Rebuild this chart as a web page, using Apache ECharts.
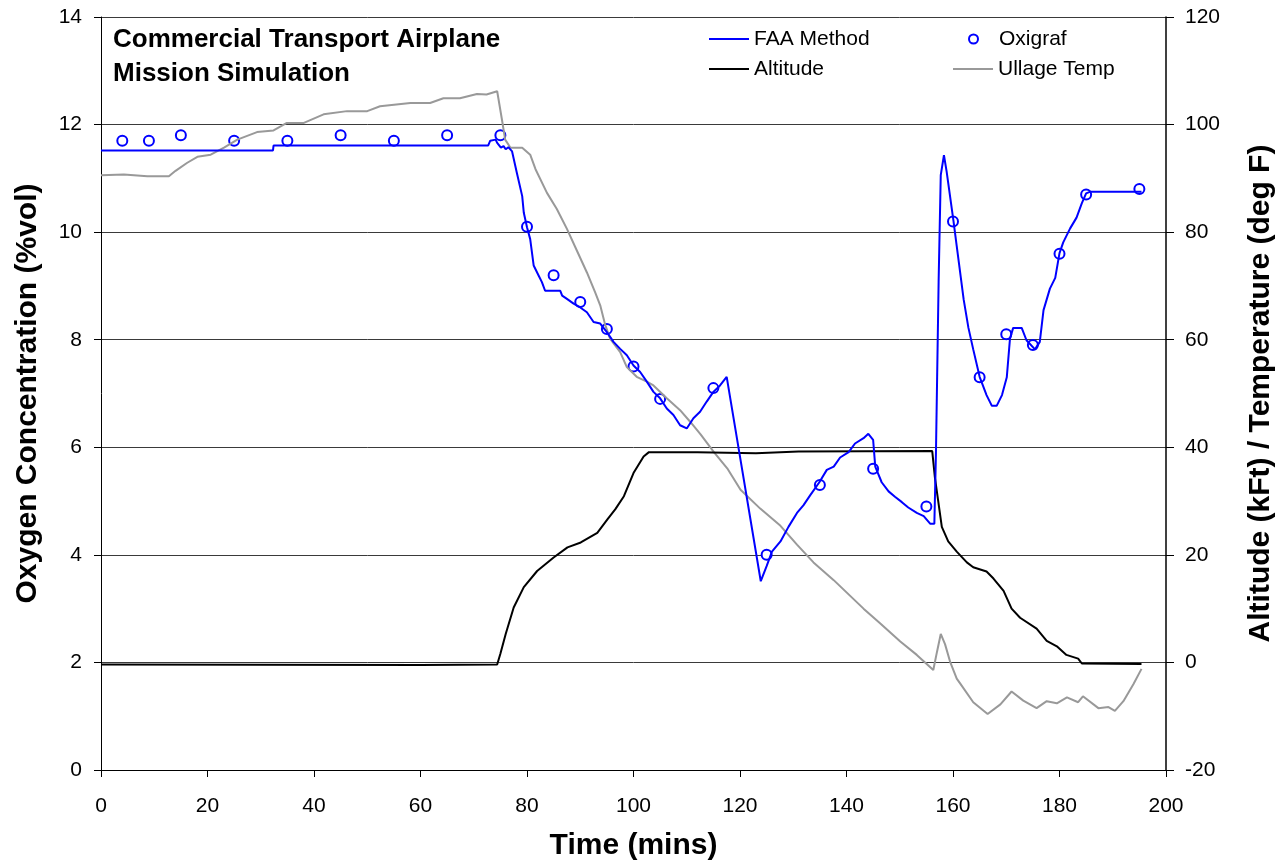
<!DOCTYPE html>
<html>
<head>
<meta charset="utf-8">
<title>Commercial Transport Airplane Mission Simulation</title>
<script src="https://cdn.jsdelivr.net/npm/echarts@6/dist/echarts.min.js"></script>
<style>
  html, body { margin: 0; padding: 0; background: #fff; }
  #chart { width: 1285px; height: 866px; }
</style>
</head>
<body>
<div id="chart"></div>
<script>
// FAA method (oxygen %vol)
const faaTime = [0, 32.3, 32.4, 72.7, 73.1, 74.1, 74.4, 75.1, 75.6, 76.0, 76.5, 77.2, 78.1, 79.1, 79.4, 80.0, 80.6, 81.25, 82.2, 82.8, 83.4, 86.25, 86.6, 87.5, 88.75, 90.0, 91.25, 92.5, 93.75, 95.0, 96.25, 97.5, 98.75, 100.0, 101.25, 102.5, 103.75, 105.0, 106.25, 107.5, 108.75, 110.0, 111.25, 112.5, 113.75, 115.0, 116.25, 117.5, 117.8, 123.9, 125.0, 126.0, 127.6, 129.1, 130.7, 131.9, 133.2, 134.9, 136.3, 137.6, 138.8, 140.4, 141.6, 143.2, 144.1, 145.0, 145.4, 146.6, 147.9, 149.1, 150.4, 151.6, 153.2, 154.5, 155.7, 156.5, 156.8, 157.3, 157.7, 158.3, 158.8, 160.1, 160.7, 162.0, 162.9, 163.8, 165.0, 166.3, 167.3, 168.2, 169.2, 170.1, 170.7, 171.3, 172.9, 173.8, 175.4, 176.3, 177.0, 178.2, 179.2, 180.0, 180.7, 182.0, 183.2, 184.2, 185.0, 185.7, 195.4]
const faaO2 = [11.52, 11.52, 11.61, 11.61, 11.70, 11.72, 11.66, 11.57, 11.60, 11.54, 11.58, 11.50, 11.10, 10.67, 10.36, 10.09, 9.87, 9.38, 9.19, 9.07, 8.91, 8.91, 8.82, 8.76, 8.67, 8.60, 8.51, 8.33, 8.30, 8.14, 7.96, 7.83, 7.71, 7.52, 7.40, 7.22, 7.03, 6.91, 6.72, 6.60, 6.41, 6.35, 6.54, 6.66, 6.85, 7.03, 7.15, 7.31, 7.34, 3.51, 3.79, 4.06, 4.25, 4.52, 4.78, 4.92, 5.11, 5.35, 5.58, 5.64, 5.81, 5.91, 6.07, 6.17, 6.25, 6.14, 5.64, 5.35, 5.18, 5.08, 4.98, 4.88, 4.78, 4.72, 4.58, 4.58, 5.90, 9.08, 11.06, 11.43, 11.13, 10.20, 9.74, 8.75, 8.22, 7.82, 7.31, 6.97, 6.77, 6.77, 6.97, 7.30, 8.02, 8.22, 8.22, 7.99, 7.82, 7.96, 8.55, 8.95, 9.15, 9.61, 9.81, 10.07, 10.27, 10.54, 10.72, 10.75, 10.75]

// Oxigraf readings
const oxiTime = [4, 9, 15, 25, 35, 45, 55, 65, 75, 80, 85, 90, 95, 100, 105, 115, 125, 135, 145, 155, 160, 165, 170, 175, 180, 185, 195]
const oxiO2 = [11.7, 11.7, 11.8, 11.7, 11.7, 11.8, 11.7, 11.8, 11.8, 10.1, 9.2, 8.7, 8.2, 7.5, 6.9, 7.1, 4.0, 5.3, 5.6, 4.9, 10.2, 7.3, 8.1, 7.9, 9.6, 10.7, 10.8]

// Altitude (kFt)
const altTime = [0, 30, 60, 74.4, 75.0, 76.0, 77.5, 79.4, 81.9, 85.0, 87.6, 90.1, 93.2, 95.1, 96.6, 98.2, 100.0, 101.9, 102.9, 112, 123, 131, 156.1, 156.6, 157.9, 159.1, 160.7, 162.6, 163.8, 166.3, 167.6, 169.5, 171.0, 172.6, 175.7, 177.6, 179.5, 181.3, 183.5, 184.2, 195.4]
const altKft = [-0.4, -0.45, -0.5, -0.4, 1.6, 5.3, 10.2, 14.0, 17.0, 19.5, 21.4, 22.3, 24.1, 26.6, 28.5, 30.9, 35.2, 38.3, 39.1, 39.1, 38.9, 39.2, 39.3, 34.4, 25.2, 22.5, 20.6, 18.6, 17.7, 16.9, 15.6, 13.3, 10.0, 8.3, 6.3, 4.0, 3.0, 1.4, 0.7, -0.2, -0.3]

// Ullage temperature (deg F)
const ullTime = [0, 4.3, 8.7, 12.75, 14, 16.2, 18.1, 20.6, 23.1, 25.6, 29.3, 32.4, 34.9, 38.1, 41.8, 46.2, 50, 52.4, 58.1, 61.8, 64.3, 67.4, 70.6, 72.4, 74.4, 75.3, 75.9, 76.9, 79.1, 80.6, 81.6, 83.75, 85.6, 87.5, 89.4, 91.25, 92.8, 93.75, 94.7, 95.6, 97.5, 98.75, 100.6, 102.5, 103.75, 106.25, 108.75, 110.6, 112.6, 115.1, 117.6, 120.1, 123.8, 127.6, 130.7, 133.8, 137.6, 143.2, 146.3, 150.1, 153.2, 156.3, 157.0, 157.7, 158.5, 159.5, 160.7, 161.4, 163.8, 166.5, 168.9, 171.0, 173.2, 175.7, 177.6, 179.5, 181.4, 183.5, 184.4, 187.3, 189.2, 190.4, 192.0, 193.9, 195.4]
const ullTemp = [90.6, 90.7, 90.4, 90.4, 91.4, 92.9, 94.0, 94.4, 95.7, 97.2, 98.6, 98.9, 100.3, 100.3, 101.9, 102.5, 102.5, 103.4, 104.0, 104.0, 104.9, 104.9, 105.7, 105.6, 106.2, 100.9, 97.2, 95.7, 95.7, 94.4, 91.7, 87.3, 84.3, 80.6, 76.5, 72.5, 68.8, 66.4, 62.7, 60.2, 57.7, 54.9, 53.1, 52.2, 51.5, 49.1, 46.9, 44.8, 42.4, 39.1, 36.1, 32.1, 28.6, 25.4, 21.9, 18.6, 15.3, 10.0, 7.3, 3.9, 1.4, -1.4, 2.0, 5.3, 3.4, 0.0, -3.0, -4.0, -7.4, -9.6, -7.8, -5.4, -7.1, -8.5, -7.2, -7.6, -6.5, -7.4, -6.3, -8.5, -8.3, -9.0, -7.2, -4.0, -1.2]

const zip = (xs, ys) => xs.map((x, i) => [x, ys[i]])

const FONT = 'Liberation Sans, Arial, sans-serif'
const chart = echarts.init(document.getElementById('chart'))

const legendText = { fontFamily: FONT, fontSize: 21, color: '#000', lineHeight: 22 }
const axisName = { fontFamily: FONT, fontSize: 30, fontWeight: 'bold', color: '#000' }

const option = {
  backgroundColor: '#fff',
  animation: false,
  textStyle: { fontFamily: FONT },
  title: {
    text: 'Commercial Transport Airplane\nMission Simulation',
    left: 113,
    top: 23,
    padding: 0,
    textStyle: { fontFamily: FONT, fontSize: 26, fontWeight: 'bold', color: '#000', lineHeight: 34 }
  },
  legend: [
    { data: [{ name: 'FAA Method', icon: 'rect' }], left: 709, top: 28, padding: 0, itemWidth: 40, itemHeight: 2, textStyle: legendText },
    { data: ['Oxigraf'], left: 968, top: 28, padding: 0, itemWidth: 9, itemHeight: 9, textStyle: Object.assign({}, legendText, { padding: [0, 0, 0, 16] }) },
    { data: [{ name: 'Altitude', icon: 'rect' }], left: 709, top: 58, padding: 0, itemWidth: 40, itemHeight: 2, textStyle: legendText },
    { data: [{ name: 'Ullage Temp', icon: 'rect' }], left: 953, top: 58, padding: 0, itemWidth: 40, itemHeight: 2, textStyle: legendText }
  ],
  grid: { left: 101, right: 119, top: 17, bottom: 93 },
  xAxis: {
    type: 'value',
    min: 0,
    max: 200,
    interval: 20,
    name: 'Time (mins)',
    nameLocation: 'middle',
    nameGap: 61,
    nameTextStyle: axisName,
    axisLine: { onZero: false, lineStyle: { color: '#000', width: 1 } },
    axisTick: { show: true, length: 7, lineStyle: { color: '#000' } },
    axisLabel: { margin: 26, fontFamily: FONT, fontSize: 21, color: '#000' },
    splitLine: { show: false }
  },
  yAxis: [
    {
      type: 'value',
      min: 0,
      max: 14,
      interval: 2,
      name: 'Oxygen Concentration (%vol)',
      nameLocation: 'middle',
      nameRotate: 90,
      nameGap: 58,
      nameTextStyle: axisName,
      axisLine: { show: true, onZero: false, lineStyle: { color: '#000', width: 1 } },
      axisTick: { show: true, length: 7, lineStyle: { color: '#000' } },
      axisLabel: { margin: 19, fontFamily: FONT, fontSize: 21, color: '#000' },
      splitLine: { show: true, lineStyle: { color: '#3a3a3a', width: 1 } }
    },
    {
      type: 'value',
      min: -20,
      max: 120,
      interval: 20,
      position: 'right',
      name: 'Altitude (kFt) / Temperature (deg F)',
      nameLocation: 'middle',
      nameRotate: 90,
      nameGap: 80,
      nameTextStyle: axisName,
      axisLine: { show: true, onZero: false, lineStyle: { color: '#000', width: 1.5 } },
      axisTick: { show: true, length: 8, lineStyle: { color: '#000' } },
      axisLabel: { margin: 19, fontFamily: FONT, fontSize: 21, color: '#000' },
      splitLine: { show: false }
    }
  ],
  series: [
    {
      name: 'Ullage Temp',
      type: 'line',
      yAxisIndex: 1,
      symbol: 'none',
      lineStyle: { color: '#999999', width: 2 },
      itemStyle: { color: '#999999' },
      data: zip(ullTime, ullTemp)
    },
    {
      name: 'Altitude',
      type: 'line',
      yAxisIndex: 1,
      symbol: 'none',
      lineStyle: { color: '#000000', width: 2 },
      itemStyle: { color: '#000000' },
      data: zip(altTime, altKft)
    },
    {
      name: 'FAA Method',
      type: 'line',
      yAxisIndex: 0,
      symbol: 'none',
      lineStyle: { color: '#0000ff', width: 2 },
      itemStyle: { color: '#0000ff' },
      data: zip(faaTime, faaO2)
    },
    {
      name: 'Oxigraf',
      type: 'scatter',
      yAxisIndex: 0,
      symbol: 'emptyCircle',
      symbolSize: 10,
      itemStyle: { color: '#0000ff', borderColor: '#0000ff', borderWidth: 2, opacity: 1 },
      data: zip(oxiTime, oxiO2)
    }
  ]
}

chart.setOption(option)
window.addEventListener('resize', function () {
  chart.resize()
})
</script>
</body>
</html>
